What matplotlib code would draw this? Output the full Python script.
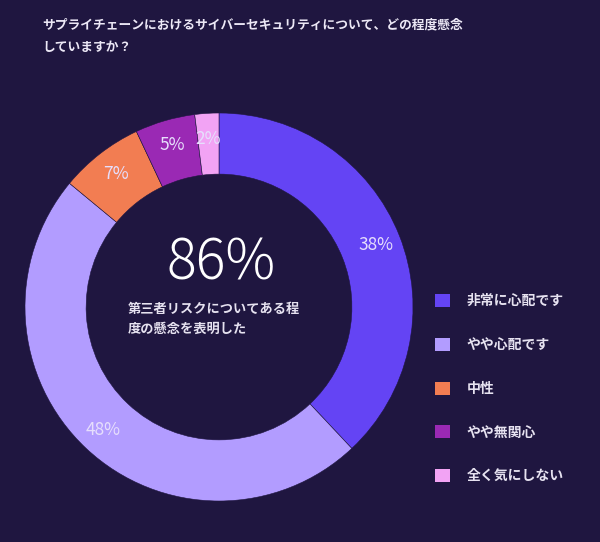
import matplotlib
matplotlib.use("Agg")
import matplotlib.pyplot as plt
from matplotlib.patches import Patch

plt.rcParams['font.family'] = ['Noto Sans CJK JP', 'DejaVu Sans']

BG = "#1f1640"
W, H = 600, 542

# データ
categories = ["非常に心配です", "やや心配です", "中性", "やや無関心", "全く気にしない"]
values = [38, 48, 7, 5, 2]
colors = ["#6444f4", "#b29cff", "#f27d52", "#9a29b4", "#f2a3f4"]
title = "サプライチェーンにおけるサイバーセキュリティについて、どの程度懸念\nしていますか？"
center_value = "86%"
center_note = "第三者リスクについてある程\n度の懸念を表明した"


def px(x, y):
    # ピクセル座標 -> figure座標
    return x / W, 1 - y / H


def main():
    fig = plt.figure(figsize=(W / 100, H / 100), dpi=100, facecolor=BG)

    cx, cy, r = 219, 307, 194
    ax = fig.add_axes([(cx - r) / W, (H - cy - r) / H, 2 * r / W, 2 * r / H])
    ax.set_facecolor(BG)
    wedges, _, autotexts = ax.pie(
        values, colors=colors, startangle=90, counterclock=False,
        radius=1.0, autopct="%.0f%%", pctdistance=0.87,
        wedgeprops=dict(width=0.315, edgecolor=BG, linewidth=0.4),
        textprops=dict(color="#e6defc", fontsize=12.5),
    )
    ax.set_xlim(-1, 1)
    ax.set_ylim(-1, 1)
    ax.axis("off")

    # タイトル
    x, y = px(42, 18)
    fig.text(x, y, title, color="#ece8f6", fontsize=9.2, fontweight="bold",
             va="top", ha="left", linespacing=2.0)

    # 中央のテキスト
    x, y = px(221, 263)
    fig.text(x, y, center_value, color="white", fontsize=40,
             fontweight="light", ha="center", va="center")
    x, y = px(128, 319)
    fig.text(x, y, center_note, color="#e6e2f0", fontsize=9.5,
             fontweight="bold", ha="left", va="center", linespacing=1.5)

    # 凡例
    handles = [Patch(facecolor=c, edgecolor="none") for c in colors]
    x, y = px(435, 294)
    leg = fig.legend(
        handles, categories, loc="upper left", bbox_to_anchor=(x, y),
        frameon=False, fontsize=10, labelcolor="#e6e2f0",
        handlelength=1.08, handleheight=1.08, handletextpad=1.2,
        labelspacing=2.12, borderaxespad=0, borderpad=0,
    )
    for t in leg.get_texts():
        t.set_fontweight("bold")

    fig.savefig("out.png", dpi=100, facecolor=BG)


if __name__ == "__main__":
    main()
